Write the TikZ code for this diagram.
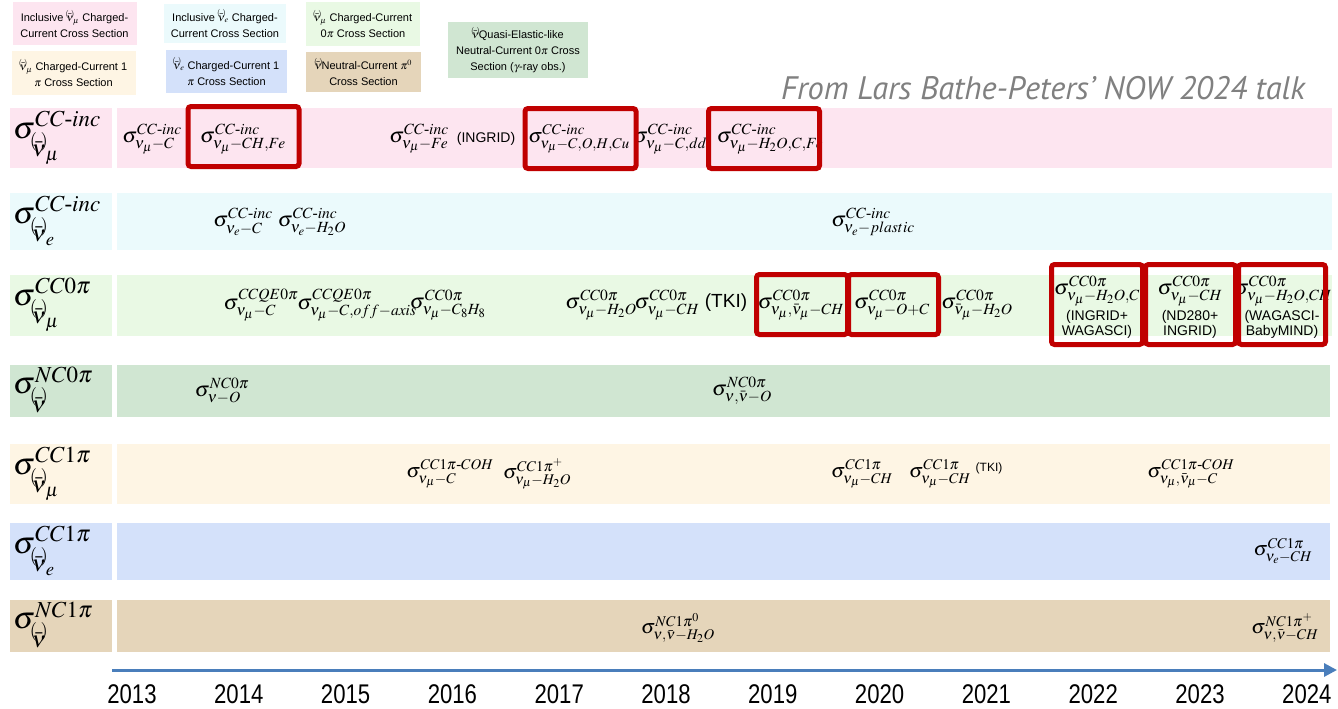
\documentclass[tikz,border=0pt]{standalone}
\usepackage{amsmath}
\usepackage{mathptmx}
\usepackage{fontspec}
\setmainfont{Liberation Serif}
\setsansfont{Liberation Sans}
\newfontfamily\talkfont{PT Sans}
\usetikzlibrary{arrows.meta}

% colours of the measurement categories
\definecolor{pinkc}{RGB}{253,229,240}
\definecolor{cyanc}{RGB}{235,250,252}
\definecolor{lgreenc}{RGB}{233,249,228}
\definecolor{greenc}{RGB}{208,230,210}
\definecolor{creamc}{RGB}{254,245,228}
\definecolor{bluec}{RGB}{212,225,250}
\definecolor{tanc}{RGB}{229,213,186}
\definecolor{hlred}{RGB}{192,0,0}
\definecolor{axisblue}{RGB}{74,126,187}
\definecolor{talkgray}{RGB}{128,128,128}

% neutrino / antineutrino symbol: barred nu with small brackets round the bar
\makeatletter
\def\nubr@s#1{\ifx#1\displaystyle\scriptstyle\else\ifx#1\textstyle\scriptstyle\else\scriptscriptstyle\fi\fi}
\newcommand{\nubr}{{\mathpalette\nubr@\relax}}
\def\nubr@#1#2{%
  \setbox0\hbox{$\m@th#1\bar\nu$}%
  \setbox2\hbox{$\m@th\nubr@s#1($}%
  \setbox4\hbox{$\m@th\nubr@s#1)$}%
  \rlap{\hbox to\wd0{\kern-0.15\wd0\raise0.72\ht0\box2\hss\raise0.72\ht0\box4\kern-0.15\wd0}}%
  \box0}
\makeatother

\tikzset{
  rowlabel/.style={anchor=west, inner sep=0pt, font=\fontsize{31}{34}\selectfont},
  entry/.style={inner sep=0pt, font=\fontsize{21}{24}\selectfont},
  smallentry/.style={inner sep=0pt, font=\fontsize{20}{23}\selectfont},
  note/.style={inner sep=0pt, align=center, font=\sffamily\fontsize{14}{15}\selectfont},
  hl/.style={draw=hlred, line width=5pt, rounded corners=3pt, inner sep=0pt},
  legendbox/.style={fill=#1, align=center, inner sep=0pt,
    font=\sffamily\fontsize{11}{16}\selectfont},
  year/.style={inner sep=0pt, font=\sffamily\fontsize{27}{27}\selectfont},
  axis/.style={draw=axisblue, line width=3pt, -{Triangle[length=13pt,width=13pt]}},
  talk/.style={inner sep=0pt, text=talkgray, font=\talkfont\itshape\fontsize{32.5}{36}\selectfont}
}

\begin{document}
\begin{tikzpicture}[x=1pt,y=-1pt]
\useasboundingbox (0,0) rectangle (1338,709);
\fill[white] (0,0) rectangle (1338,709);

% ---------- legend ----------
\node[legendbox=pinkc, minimum width=124, minimum height=43] (lgA) at (74.5,24)
  {Inclusive $\nubr_\mu$ Charged-\\Current Cross Section};
\node[legendbox=creamc, minimum width=124, minimum height=43] (lgB) at (73.5,73)
  {$\nubr_\mu$ Charged-Current 1\\$\pi$ Cross Section};
\node[legendbox=cyanc, minimum width=122, minimum height=39] (lgC) at (225,23.5)
  {Inclusive $\nubr_e$ Charged-\\Current Cross Section};
\node[legendbox=bluec, minimum width=121, minimum height=43] (lgD) at (226.5,71.5)
  {$\nubr_e$ Charged-Current 1\\$\pi$ Cross Section};
\node[legendbox=lgreenc, minimum width=114, minimum height=44] (lgE) at (363,24)
  {$\nubr_\mu$ Charged-Current\\0$\pi$ Cross Section};
\node[legendbox=tanc, minimum width=115, minimum height=40] (lgF) at (363.5,72)
  {$\nubr$Neutral-Current $\pi^0$\\Cross Section};
\node[legendbox=greenc, minimum width=140, minimum height=56] (lgG) at (518,50)
  {$\nubr$Quasi-Elastic-like\\Neutral-Current 0$\pi$ Cross\\Section ($\gamma$-ray obs.)};

\node[talk] (src) at (1043,88) {From Lars Bathe-Peters’ NOW 2024 talk};

% ---------- category bands ----------
\fill[pinkc]   (10,108) rectangle (112,168);  \fill[pinkc]   (117,108) rectangle (1332,168);
\fill[cyanc]   (10,193) rectangle (112,250);  \fill[cyanc]   (117,193) rectangle (1332,250);
\fill[lgreenc] (10,275) rectangle (112,336);  \fill[lgreenc] (117,275) rectangle (1332,336);
\fill[greenc]  (10,365) rectangle (112,417);  \fill[greenc]  (117,365) rectangle (1330,417);
\fill[creamc]  (10,444) rectangle (112,504);  \fill[creamc]  (117,444) rectangle (1330,504);
\fill[bluec]   (10,523) rectangle (112,580);  \fill[bluec]   (117,523) rectangle (1330,580);
\fill[tanc]    (10,600) rectangle (112,652);  \fill[tanc]    (117,600) rectangle (1330,652);

% ---------- row labels ----------
\node[rowlabel] (r1) at (13,138) {$\sigma^{CC\text{-}inc}_{\nubr_\mu}$};
\node[rowlabel] (r2) at (13,221) {$\sigma^{CC\text{-}inc}_{\nubr_e}$};
\node[rowlabel] (r3) at (13,305) {$\sigma^{CC0\pi}_{\nubr_\mu}$};
\node[rowlabel] (r4) at (13,390) {$\sigma^{NC0\pi}_{\nubr}$};
\node[rowlabel] (r5) at (13,474) {$\sigma^{CC1\pi}_{\nubr_\mu}$};
\node[rowlabel] (r6) at (13,551) {$\sigma^{CC1\pi}_{\nubr_e}$};
\node[rowlabel] (r7) at (13,625) {$\sigma^{NC1\pi}_{\nubr}$};

% ---------- inclusive nu_mu CC ----------
\node[entry] (e11) at (152,139) {$\sigma^{CC\text{-}inc}_{\nu_\mu-C}$};
\node[entry] (e12) at (243,139) {$\sigma^{CC\text{-}inc}_{\nu_\mu-CH{,}Fe}$};
\node[entry] (e13) at (419,139) {$\sigma^{CC\text{-}inc}_{\nu_\mu-Fe}$};
\node[note]  (n13) at (486,139) {(INGRID)};
\node[entry, font=\fontsize{20}{23}\selectfont] (e14) at (579,139) {$\sigma^{CC\text{-}inc}_{\nu_\mu-C{,}O{,}H{,}Cu}$};
\node[entry] (e15) at (670,139) {$\sigma^{CC\text{-}inc}_{\nu_\mu-C{,}dd}$};
\node[entry] (e16) at (770,139) {$\sigma^{CC\text{-}inc}_{\nu_\mu-H_2O{,}C{,}Fe}$};

% ---------- inclusive nu_e CC ----------
\node[entry] (e21) at (243,222) {$\sigma^{CC\text{-}inc}_{\nu_e-C}$};
\node[entry] (e22) at (312,222) {$\sigma^{CC\text{-}inc}_{\nu_e-H_2O}$};
\node[entry] (e23) at (873,222) {$\sigma^{CC\text{-}inc}_{\nu_e-plastic}$};

% ---------- CC0pi ----------
\node[entry] (e31) at (261,305) {$\sigma^{CCQE0\pi}_{\nu_\mu-C}$};
\node[entry] (e32) at (357,305) {$\sigma^{CCQE0\pi}_{\nu_\mu-C{,}off-axis}$};
\node[entry] (e33) at (448,305) {$\sigma^{CC0\pi}_{\nu_\mu-C_8H_8}$};
\node[entry] (e34) at (601,305) {$\sigma^{CC0\pi}_{\nu_\mu-H_2O}$};
\node[entry] (e35) at (667,305) {$\sigma^{CC0\pi}_{\nu_\mu-CH}$};
\node[note, font=\sffamily\fontsize{19}{20}\selectfont] (n35) at (726,303) {(TKI)};
\node[entry] (e36) at (801,305) {$\sigma^{CC0\pi}_{\nu_\mu{,}\bar\nu_\mu-CH}$};
\node[entry] (e37) at (892,305) {$\sigma^{CC0\pi}_{\nu_\mu-O+C}$};
\node[entry] (e38) at (977,305) {$\sigma^{CC0\pi}_{\bar\nu_\mu-H_2O}$};
\node[entry] (e39) at (1097,291) {$\sigma^{CC0\pi}_{\nu_\mu-H_2O{,}C}$};
\node[note]  (n39) at (1097,324) {(INGRID+\\WAGASCI)};
\node[entry] (e3a) at (1190,291) {$\sigma^{CC0\pi}_{\nu_\mu-CH}$};
\node[note]  (n3a) at (1190,324) {(ND280+\\INGRID)};
\node[entry] (e3b) at (1283,291) {$\sigma^{CC0\pi}_{\nu_\mu-H_2O{,}CH}$};
\node[note]  (n3b) at (1282,324) {(WAGASCI-\\BabyMIND)};

% ---------- NC0pi ----------
\node[entry] (e41) at (222,391) {$\sigma^{NC0\pi}_{\nu-O}$};
\node[entry] (e42) at (742,391) {$\sigma^{NC0\pi}_{\nu{,}\bar\nu-O}$};

% ---------- CC1pi nu_mu ----------
\node[smallentry] (e51) at (450,474) {$\sigma^{CC1\pi\text{-}COH}_{\nu_\mu-C}$};
\node[smallentry] (e52) at (537,474) {$\sigma^{CC1\pi^+}_{\nu_\mu-H_2O}$};
\node[smallentry] (e53) at (862,474) {$\sigma^{CC1\pi}_{\nu_\mu-CH}$};
\node[smallentry] (e54) at (940,474) {$\sigma^{CC1\pi}_{\nu_\mu-CH}$};
\node[note, font=\sffamily\fontsize{12}{13}\selectfont] (n54) at (989,468) {(TKI)};
\node[smallentry] (e55) at (1191,474) {$\sigma^{CC1\pi\text{-}COH}_{\nu_\mu{,}\bar\nu_\mu-C}$};

% ---------- CC1pi nu_e ----------
\node[smallentry] (e61) at (1283,551) {$\sigma^{CC1\pi}_{\nu_e-CH}$};

% ---------- NC1pi ----------
\node[smallentry] (e71) at (678,628) {$\sigma^{NC1\pi^0}_{\nu{,}\bar\nu-H_2O}$};
\node[smallentry] (e72) at (1285,628) {$\sigma^{NC1\pi^+}_{\nu{,}\bar\nu-CH}$};

% ---------- highlighted results ----------
\node[hl, minimum width=111, minimum height=60] (hA) at (243.5,136.5) {};
\node[hl, minimum width=111, minimum height=60] (hB) at (580.5,138.5) {};
\node[hl, minimum width=111, minimum height=60] (hC) at (764,138.5) {};
\node[hl, minimum width=91, minimum height=60] (hD) at (802,304.5) {};
\node[hl, minimum width=90, minimum height=60] (hE) at (893.5,304.5) {};
\node[hl, minimum width=91, minimum height=80] (hF) at (1097,304.5) {};
\node[hl, minimum width=90, minimum height=80] (hG) at (1190.5,304.5) {};
\node[hl, minimum width=87, minimum height=80] (hH) at (1282,304.5) {};

% ---------- time axis ----------
\coordinate (axL) at (112,670);
\coordinate (axR) at (1337,670);
\draw[axis] (axL) -- (axR);
\foreach \yr [count=\i from 0] in {2013,2014,2015,2016,2017,2018,2019,2020,2021,2022,2023,2024}
  \node[year] (y\yr) at ({132+106.8*\i},694) {\scalebox{0.82}[1]{\yr}};
\end{tikzpicture}
\end{document}
